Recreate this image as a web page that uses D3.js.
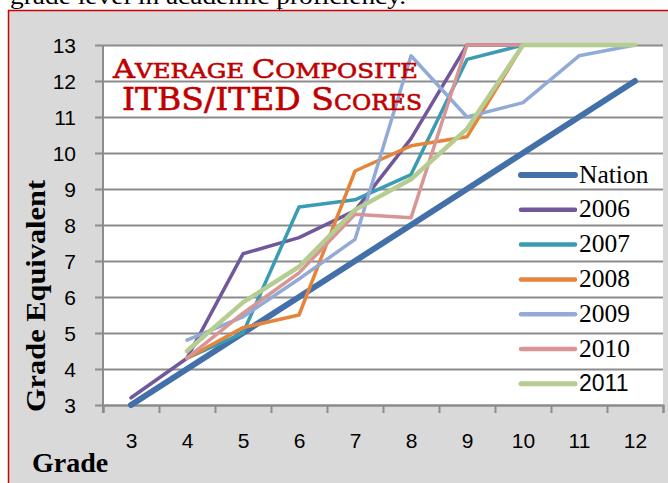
<!DOCTYPE html>
<html>
<head>
<meta charset="utf-8">
<script src="https://cdn.jsdelivr.net/npm/d3@7"></script>
<style>
  html, body { margin: 0; padding: 0; background: #ffffff; }
  svg { display: block; }
</style>
</head>
<body>
<svg id="chart" width="668" height="483"></svg>
<script>
// ---------- data ----------
const grades = [3, 4, 5, 6, 7, 8, 9, 10, 11, 12];
const yTicks = [3, 4, 5, 6, 7, 8, 9, 10, 11, 12, 13];
const nation = [3, 4, 5, 6, 7, 8, 9, 10, 11, 12];
const s2006 = [3.2, 4.3, 7.2, 7.65, 8.4, 10.4, 13, 13, 13, 13];
const s2007 = [null, 4.3, 5.0, 8.5, 8.7, 9.4, 12.6, 13, 13, 13];
const s2008 = [null, 4.3, 5.15, 5.5, 9.5, 10.2, 10.45, 13, 13, 13];
const s2009 = [null, 4.8, 5.45, 6.5, 7.6, 12.7, 11.0, 11.4, 12.7, 13];
const s2010 = [null, 4.3, 5.55, 6.67, 8.3, 8.2, 13, 13, 13, 13];
const s2011 = [null, 4.5, 5.85, 6.84, 8.42, 9.27, 10.67, 13, 13, 13];
const seriesNames = ["Nation", "2006", "2007", "2008", "2009", "2010", "2011"];
const seriesValues = [nation, s2006, s2007, s2008, s2009, s2010, s2011];
const seriesColors = ["#4470aa", "#71589b", "#3a9bb3", "#e5843b", "#91abd6", "#d99594", "#b5cd90"];
const seriesWidths = [6, 3.5, 3.5, 3.5, 3.5, 3.5, 4.5];

// ---------- layout ----------
const svg = d3.select("#chart");
const plot = { left: 103, right: 663, top: 45, bottom: 405 };

const x = d3.scaleLinear().domain([2.5, 12.5]).range([plot.left, plot.right]);
const y = d3.scaleLinear().domain([3, 13]).range([plot.bottom, plot.top]);

// page text above the chart (cut off, as in the reference)
svg.append("text")
  .attr("x", 10).attr("y", 4)
  .attr("font-family", "Liberation Serif, serif")
  .attr("font-size", 24)
  .attr("fill", "#000")
  .attr("textLength", 396)
  .attr("lengthAdjust", "spacingAndGlyphs")
  .text("grade level in academic proficiency.");
svg.append("line")
  .attr("x1", 279.5).attr("x2", 279.5).attr("y1", 0).attr("y2", 10)
  .attr("stroke", "#000").attr("stroke-width", 1);

// chart frame
svg.append("rect")
  .attr("x", 8.5).attr("y", 10.5).attr("width", 680).attr("height", 490)
  .attr("fill", "#d9d9d9").attr("stroke", "#cc0000").attr("stroke-width", 1.5);

// plot area
svg.append("rect")
  .attr("x", plot.left).attr("y", plot.top)
  .attr("width", plot.right - plot.left).attr("height", plot.bottom - plot.top)
  .attr("fill", "#ffffff");

// gridlines + y labels
const yAxis = svg.append("g")
  .attr("transform", `translate(95,0)`)
  .call(d3.axisLeft(y).tickValues(yTicks).tickSize(-(plot.right - 95)).tickPadding(19).tickFormat(d3.format("d")));
yAxis.select(".domain").remove();
yAxis.selectAll(".tick line").attr("stroke", "#8c8c8c").attr("stroke-width", 2);
yAxis.selectAll(".tick text")
  .attr("font-family", "Liberation Sans, Arial, sans-serif")
  .attr("font-size", 21)
  .attr("fill", "#000")
  .attr("dy", "0.36em");

// y axis line
svg.append("line")
  .attr("x1", plot.left).attr("x2", plot.left)
  .attr("y1", plot.top).attr("y2", plot.bottom + 8)
  .attr("stroke", "#8c8c8c").attr("stroke-width", 2);

// x axis boundary ticks
const xTicksAxis = svg.append("g")
  .attr("transform", `translate(0,${plot.bottom})`)
  .call(d3.axisBottom(x).tickValues(d3.range(2.5, 13, 1)).tickSize(8).tickFormat(""));
xTicksAxis.select(".domain").attr("stroke", "#8c8c8c").attr("stroke-width", 2);
xTicksAxis.selectAll(".tick line").attr("stroke", "#8c8c8c").attr("stroke-width", 2);

// x labels
const xLab = svg.append("g")
  .attr("transform", `translate(0,${plot.bottom})`)
  .call(d3.axisBottom(x).tickValues(grades).tickSize(0).tickPadding(28).tickFormat(d3.format("d")));
xLab.select(".domain").remove();
xLab.selectAll(".tick text")
  .attr("font-family", "Liberation Sans, Arial, sans-serif")
  .attr("font-size", 21)
  .attr("fill", "#000")
  .attr("dy", "0.71em");

// lines
const line = d3.line()
  .defined(d => d.v !== null)
  .x(d => x(d.g))
  .y(d => y(d.v));

seriesValues.forEach((vals, i) => {
  const pts = grades.map((g, j) => ({ g, v: vals[j] }));
  svg.append("path")
    .datum(pts)
    .attr("d", line)
    .attr("fill", "none")
    .attr("stroke", seriesColors[i])
    .attr("stroke-width", seriesWidths[i])
    .attr("stroke-linejoin", "round")
    .attr("stroke-linecap", "round");
});

// title (small caps, built manually)
function smallCaps(textSel, word, big, small) {
  textSel.append("tspan").attr("font-size", big).text(word[0]);
  textSel.append("tspan").attr("font-size", small).text(word.slice(1).toUpperCase());
}
const t1 = svg.append("text")
  .attr("x", 113).attr("y", 78)
  .attr("font-family", "DejaVu Serif, serif")
  .attr("fill", "#c00000")
  .attr("stroke", "#c00000").attr("stroke-width", 0.6)
  .attr("textLength", 305)
  .attr("lengthAdjust", "spacingAndGlyphs");
smallCaps(t1, "Average ", 26, 21);
smallCaps(t1, "Composite", 26, 21);

const t2 = svg.append("text")
  .attr("x", 122).attr("y", 110)
  .attr("font-family", "DejaVu Serif, serif")
  .attr("fill", "#c00000")
  .attr("stroke", "#c00000").attr("stroke-width", 0.6)
  .attr("textLength", 300)
  .attr("lengthAdjust", "spacingAndGlyphs");
t2.append("tspan").attr("font-size", 31).text("ITBS/ITED ");
smallCaps(t2, "Scores", 31, 22);

// legend
const legY0 = 175, legStep = 34.8;
seriesNames.forEach((name, i) => {
  const ly = legY0 + i * legStep;
  svg.append("line")
    .attr("x1", 521).attr("x2", 575).attr("y1", ly).attr("y2", ly)
    .attr("stroke", seriesColors[i])
    .attr("stroke-width", i === 0 ? 6 : (i === 6 ? 5 : 4.5))
    .attr("stroke-linecap", "round");
  svg.append("text")
    .attr("x", 579).attr("y", ly + 7.5)
    .attr("font-family", i === 6 ? "Liberation Sans, Arial, sans-serif" : "Liberation Serif, serif")
    .attr("font-size", i === 6 ? 23 : 25.5)
    .attr("fill", "#000")
    .text(name);
});

// axis titles
svg.append("text")
  .attr("x", 32).attr("y", 472)
  .attr("font-family", "Liberation Serif, serif")
  .attr("font-weight", "bold")
  .attr("font-size", 28)
  .attr("fill", "#000")
  .text("Grade");

svg.append("text")
  .attr("transform", "translate(45,296) rotate(-90)")
  .attr("text-anchor", "middle")
  .attr("font-family", "Liberation Serif, serif")
  .attr("font-weight", "bold")
  .attr("font-size", 28)
  .attr("fill", "#000")
  .attr("textLength", 232)
  .attr("lengthAdjust", "spacingAndGlyphs")
  .text("Grade Equivalent");
</script>
</body>
</html>
